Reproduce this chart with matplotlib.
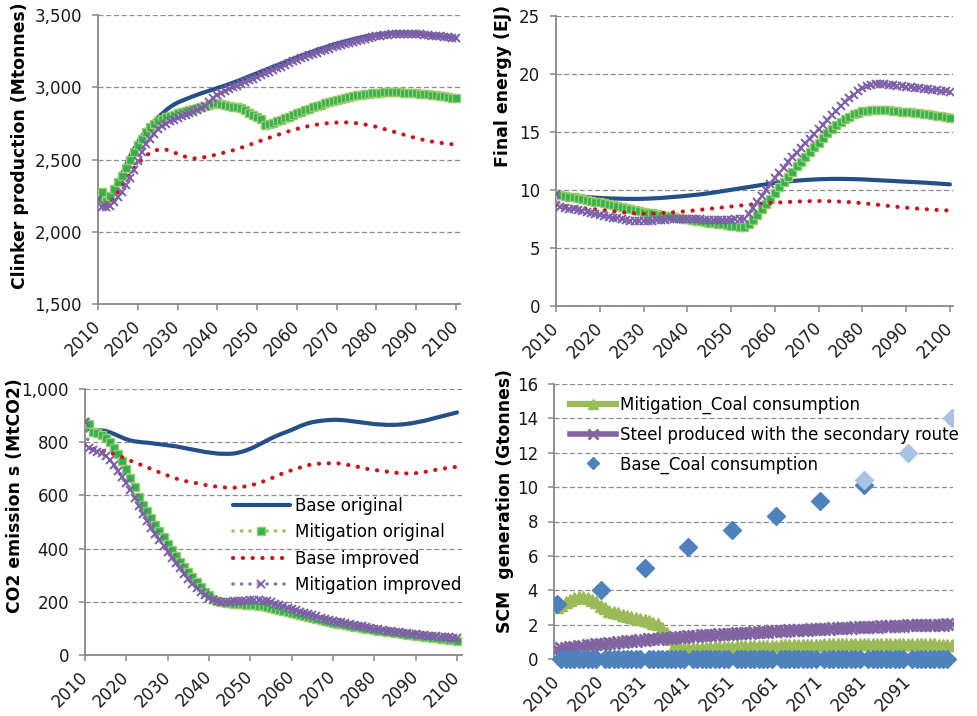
import numpy as np
import matplotlib
matplotlib.use("Agg")
import matplotlib.pyplot as plt
from matplotlib.lines import Line2D
from matplotlib.ticker import FuncFormatter, FixedLocator
from matplotlib.transforms import ScaledTranslation

# ---------------------------------------------------------------- data
years = list(range(2010, 2101))

# Clinker production (Mtonnes)
clk_base_orig = [
    2230, 2215, 2205, 2230, 2280, 2340, 2400, 2460, 2520, 2570,
    2620, 2660, 2700, 2730, 2762, 2790, 2815, 2840, 2862, 2880,
    2895, 2907, 2918, 2929, 2940, 2950, 2960, 2969, 2978, 2987,
    2996, 3005, 3014, 3024, 3034, 3044, 3055, 3066, 3077, 3088,
    3099, 3110, 3121, 3132, 3143, 3154, 3165, 3176, 3187, 3198,
    3209, 3219, 3229, 3239, 3249, 3259, 3268, 3277, 3286, 3295,
    3303, 3311, 3319, 3326, 3333, 3340, 3346, 3352, 3357, 3362,
    3366, 3370, 3373, 3375, 3377, 3378, 3378, 3378, 3377, 3375,
    3373, 3370, 3367, 3364, 3361, 3358, 3355, 3352, 3349, 3346,
    3343]
clk_mit_orig = [
    2230, 2275, 2215, 2250, 2300, 2345, 2385, 2440, 2500, 2550,
    2600, 2645, 2690, 2725, 2750, 2768, 2780, 2792, 2803, 2812,
    2820, 2828, 2836, 2844, 2852, 2860, 2867, 2874, 2880, 2886,
    2890, 2886, 2878, 2872, 2868, 2866, 2860, 2845, 2825, 2808,
    2795, 2780, 2742, 2748, 2757, 2766, 2776, 2786, 2797, 2808,
    2820, 2831, 2842, 2853, 2863, 2873, 2882, 2891, 2900, 2908,
    2916, 2923, 2930, 2936, 2942, 2947, 2951, 2955, 2958, 2961,
    2963, 2965, 2966, 2967, 2967, 2967, 2966, 2965, 2963, 2961,
    2959, 2957, 2955, 2952, 2949, 2946, 2942, 2938, 2934, 2930,
    2926]
clk_base_imp = [
    2230, 2190, 2180, 2200, 2235, 2275, 2315, 2360, 2400, 2440,
    2470, 2500, 2525, 2545, 2560, 2568, 2572, 2570, 2562, 2552,
    2540, 2530, 2520, 2512, 2508, 2510, 2514, 2518, 2523, 2530,
    2537, 2544, 2550, 2557, 2565, 2574, 2583, 2592, 2602, 2612,
    2622, 2632, 2641, 2651, 2661, 2670, 2679, 2688, 2697, 2705,
    2713, 2720, 2727, 2733, 2738, 2743, 2747, 2750, 2753, 2755,
    2757, 2758, 2758, 2757, 2755, 2752, 2748, 2744, 2739, 2733,
    2727, 2720, 2712, 2704, 2696, 2688, 2680, 2672, 2664, 2656,
    2649, 2642, 2636, 2630, 2625, 2621, 2617, 2613, 2610, 2607,
    2604]
clk_mit_imp = [
    2230, 2170, 2170, 2180, 2205, 2240, 2275, 2325, 2375, 2430,
    2490, 2550, 2605, 2645, 2680, 2710, 2732, 2750, 2765, 2778,
    2790, 2800, 2810, 2820, 2830, 2842, 2856, 2875, 2898, 2925,
    2948, 2965, 2978, 2990, 3002, 3013, 3025, 3037, 3049, 3061,
    3073, 3085, 3097, 3109, 3121, 3133, 3145, 3157, 3169, 3180,
    3191, 3202, 3212, 3222, 3232, 3242, 3251, 3260, 3269, 3278,
    3287, 3295, 3303, 3311, 3318, 3325, 3332, 3338, 3344, 3349,
    3354, 3358, 3362, 3365, 3368, 3370, 3371, 3372, 3372, 3371,
    3370, 3368, 3366, 3363, 3360, 3357, 3354, 3351, 3347, 3344,
    3340]

# Final energy (EJ)
fe_base_orig = [
    9.65, 9.62, 9.58, 9.54, 9.49, 9.45, 9.41, 9.37, 9.34, 9.31,
    9.29, 9.27, 9.25, 9.24, 9.23, 9.22, 9.21, 9.21, 9.21, 9.21,
    9.22, 9.23, 9.25, 9.27, 9.29, 9.32, 9.35, 9.38, 9.41, 9.44,
    9.48, 9.52, 9.56, 9.60, 9.65, 9.70, 9.75, 9.81, 9.87, 9.93,
    9.99, 10.05, 10.11, 10.17, 10.23, 10.29, 10.35, 10.41, 10.47, 10.53,
    10.58, 10.63, 10.67, 10.71, 10.75, 10.78, 10.81, 10.84, 10.86, 10.88,
    10.90, 10.91, 10.92, 10.93, 10.93, 10.93, 10.93, 10.92, 10.91, 10.90,
    10.89, 10.87, 10.85, 10.83, 10.81, 10.79, 10.77, 10.75, 10.73, 10.71,
    10.69, 10.67, 10.65, 10.63, 10.61, 10.59, 10.56, 10.54, 10.51, 10.49,
    10.46]
fe_mit_orig = [
    9.60, 9.55, 9.45, 9.40, 9.35, 9.30, 9.22, 9.14, 9.06, 8.98,
    8.90, 8.82, 8.74, 8.66, 8.58, 8.50, 8.42, 8.34, 8.26, 8.18,
    8.10, 8.03, 7.96, 7.89, 7.82, 7.75, 7.69, 7.63, 7.57, 7.51,
    7.45, 7.39, 7.33, 7.27, 7.21, 7.15, 7.10, 7.05, 7.00, 6.95,
    6.90, 6.85, 6.78, 6.75, 7.00, 7.40, 7.85, 8.30, 8.75, 9.20,
    9.70, 10.20, 10.65, 11.10, 11.55, 12.00, 12.42, 12.84, 13.25, 13.65,
    14.05, 14.45, 14.85, 15.20, 15.55, 15.85, 16.10, 16.30, 16.50, 16.65,
    16.75, 16.80, 16.85, 16.87, 16.87, 16.86, 16.84, 16.81, 16.78, 16.74,
    16.70, 16.66, 16.62, 16.58, 16.54, 16.49, 16.44, 16.38, 16.32, 16.26,
    16.20]
fe_base_imp = [
    8.70, 8.65, 8.60, 8.55, 8.50, 8.46, 8.42, 8.38, 8.34, 8.30,
    8.26, 8.22, 8.18, 8.14, 8.10, 8.06, 8.02, 7.99, 7.96, 7.94,
    7.93, 7.93, 7.94, 7.96, 7.98, 8.00, 8.03, 8.06, 8.09, 8.12,
    8.15, 8.19, 8.23, 8.27, 8.31, 8.35, 8.39, 8.43, 8.47, 8.51,
    8.55, 8.59, 8.63, 8.67, 8.70, 8.74, 8.77, 8.80, 8.83, 8.86,
    8.88, 8.90, 8.92, 8.94, 8.96, 8.98, 8.99, 9.00, 9.01, 9.02,
    9.02, 9.02, 9.01, 9.00, 8.99, 8.97, 8.95, 8.93, 8.90, 8.87,
    8.84, 8.80, 8.76, 8.72, 8.68, 8.64, 8.60, 8.56, 8.52, 8.48,
    8.45, 8.42, 8.39, 8.36, 8.33, 8.30, 8.28, 8.26, 8.24, 8.22,
    8.20]
fe_mit_imp = [
    9.60, 8.50, 8.40, 8.35, 8.30, 8.25, 8.15, 8.05, 7.97, 7.90,
    7.83, 7.76, 7.68, 7.60, 7.52, 7.45, 7.39, 7.34, 7.31, 7.30,
    7.30, 7.31, 7.33, 7.35, 7.38, 7.41, 7.44, 7.47, 7.49, 7.50,
    7.50, 7.49, 7.47, 7.45, 7.43, 7.42, 7.41, 7.41, 7.41, 7.42,
    7.43, 7.44, 7.46, 7.50, 7.90, 8.40, 8.90, 9.45, 10.00, 10.50,
    11.00, 11.45, 11.90, 12.35, 12.80, 13.20, 13.60, 14.00, 14.40, 14.80,
    15.20, 15.60, 16.00, 16.40, 16.80, 17.20, 17.55, 17.90, 18.20, 18.50,
    18.75, 18.92, 19.02, 19.07, 19.08, 19.07, 19.04, 19.00, 18.96, 18.92,
    18.88, 18.84, 18.80, 18.76, 18.72, 18.67, 18.62, 18.57, 18.52, 18.47,
    18.42]

# CO2 emissions (MtCO2)
co2_base_orig = [
    855, 850, 847, 846, 845, 843, 838, 832, 825, 818,
    812, 807, 804, 802, 800, 799, 797, 795, 793, 791,
    789, 787, 785, 782, 779, 776, 773, 770, 767, 764,
    762, 760, 758, 757, 757, 757, 758, 761, 765, 770,
    776, 783, 791, 799, 807, 815, 822, 829, 835, 841,
    847, 854, 861, 867, 872, 876, 879, 881, 883, 884,
    885, 885, 884, 883, 881, 879, 877, 875, 873, 871,
    869, 868, 867, 866, 866, 866, 867, 868, 870, 872,
    875, 878, 881, 885, 889, 893, 897, 901, 905, 909,
    913]
co2_mit_orig = [
    878, 868, 840, 835, 828, 818, 800, 780, 755, 728,
    698, 665, 630, 596, 565, 540, 515, 490, 466, 442,
    418, 394, 371, 350, 330, 310, 292, 273, 256, 238,
    224, 211, 202, 197, 195, 193, 192, 191, 190, 189,
    187, 186, 184, 182, 179, 176, 173, 169, 165, 161,
    157, 153, 149, 145, 141, 137, 133, 129, 126, 123,
    120, 117, 114, 111, 108, 106, 103, 101, 98, 96,
    93, 91, 88, 86, 84, 82, 80, 78, 76, 74,
    72, 70, 68, 66, 64, 62, 60, 58, 56, 54,
    52]
co2_base_imp = [
    790, 782, 776, 772, 769, 765, 761, 756, 750, 744,
    738, 731, 725, 719, 712, 706, 700, 694, 687, 681,
    675, 669, 664, 659, 655, 652, 649, 646, 643, 640,
    637, 635, 633, 631, 630, 629, 629, 630, 632, 635,
    638, 642, 647, 652, 658, 664, 671, 678, 684, 690,
    695, 700, 705, 710, 714, 717, 719, 720, 721, 721,
    721, 721, 720, 717, 714, 711, 708, 704, 701, 698,
    696, 694, 692, 690, 688, 686, 684, 683, 683, 683,
    684, 686, 688, 691, 694, 697, 700, 702, 704, 706,
    708]
co2_mit_imp = [
    875, 778, 770, 765, 759, 748, 735, 715, 693, 670,
    648, 620, 592, 562, 532, 504, 478, 455, 432, 410,
    388, 366, 346, 325, 305, 287, 268, 252, 238, 226,
    215, 207, 202, 200, 200, 200, 201, 202, 203, 204,
    205, 205, 205, 204, 201, 197, 192, 187, 182, 177,
    172, 167, 162, 157, 152, 148, 144, 140, 136, 132,
    128, 125, 122, 119, 116, 113, 110, 107, 104, 101,
    98, 96, 93, 91, 89, 87, 85, 83, 81, 79,
    77, 76, 74, 72, 71, 69, 68, 66, 65, 64,
    63]

# SCM generation (Gtonnes), category axis
scm_tick_labels = ['2010', '2020', '2031', '2041', '2051',
                   '2061', '2071', '2081', '2091']
coal_mitigation = [
    3.00, 3.15, 3.30, 3.45, 3.55, 3.60, 3.60, 3.55, 3.45, 3.30,
    3.10, 2.95, 2.82, 2.72, 2.65, 2.58, 2.52, 2.46, 2.40, 2.34,
    2.27, 2.20, 2.12, 2.03, 1.80, 1.50, 1.15, 0.85, 0.68, 0.63,
    0.62, 0.63, 0.64, 0.65, 0.66, 0.67, 0.68, 0.69, 0.70, 0.71,
    0.72, 0.73, 0.73, 0.74, 0.75, 0.75, 0.76, 0.77, 0.77, 0.78,
    0.78, 0.79, 0.80, 0.80, 0.81, 0.82, 0.82, 0.83, 0.83, 0.84,
    0.84, 0.85, 0.85, 0.86, 0.86, 0.87, 0.87, 0.87, 0.88, 0.88,
    0.88, 0.88, 0.88, 0.88, 0.88, 0.88, 0.88, 0.88, 0.88, 0.88,
    0.88, 0.87, 0.87, 0.86, 0.86, 0.85, 0.85, 0.84, 0.83, 0.83,
    0.82]
steel_secondary = [
    0.60, 0.63, 0.66, 0.69, 0.72, 0.75, 0.77, 0.80, 0.83, 0.85,
    0.88, 0.90, 0.93, 0.95, 0.97, 1.00, 1.02, 1.05, 1.07, 1.10,
    1.12, 1.14, 1.16, 1.18, 1.20, 1.22, 1.24, 1.26, 1.28, 1.30,
    1.32, 1.34, 1.35, 1.37, 1.38, 1.40, 1.42, 1.43, 1.45, 1.46,
    1.48, 1.49, 1.51, 1.52, 1.54, 1.55, 1.56, 1.58, 1.59, 1.61,
    1.62, 1.63, 1.65, 1.66, 1.67, 1.69, 1.70, 1.71, 1.72, 1.74,
    1.75, 1.76, 1.77, 1.78, 1.79, 1.80, 1.81, 1.82, 1.84, 1.85,
    1.86, 1.87, 1.88, 1.89, 1.90, 1.91, 1.91, 1.92, 1.93, 1.94,
    1.95, 1.96, 1.96, 1.97, 1.98, 1.98, 1.99, 2.00, 2.00, 2.01,
    2.02]
base_coal_decadal = [3.2, 4.0, 5.3, 6.5, 7.5, 8.3, 9.2, 10.1]   # categories 0, 10, ..., 70
base_coal_late = [10.4, 12.0, 14.0]                             # categories 70, 80, 90
n_cat = len(coal_mitigation)

# ---------------------------------------------------------------- style
BLUE = '#24508A'
RED = '#C8141E'
G_FACE = '#31B251'
G_EDGE = '#9CCB6C'
G_LINE = '#98C865'
P_MARK = '#7C5FA8'
P_LINE = '#9079B9'
GRID = '#8C8C8C'
AXIS = '#878787'
DOT = (0, (0.05, 2.3))
FS = 12
LABEL_FS = 12.4

plt.rcParams['font.family'] = ['DejaVu Sans']

fig = plt.figure(figsize=(9.78, 7.16), dpi=100)
W, H = 978.0, 716.0
# small rightward nudge for the slanted year labels
xlabel_shift = ScaledTranslation(4 / 100, -2 / 100, fig.dpi_scale_trans)


def add_axes(left, top, right, bottom):
    return fig.add_axes([left / W, 1 - bottom / H, (right - left) / W, (bottom - top) / H])


def style(ax, ylim, yticks, fmt, xlim, xticks, xlabels):
    ax.set_ylim(*ylim)
    ax.set_xlim(*xlim)
    ax.yaxis.set_major_locator(FixedLocator(yticks))
    ax.yaxis.set_major_formatter(FuncFormatter(fmt))
    ax.xaxis.set_major_locator(FixedLocator(xticks))
    ax.set_xticklabels(xlabels, rotation=45, ha='right', va='center',
                       rotation_mode='anchor')
    for lab in ax.get_xticklabels():
        lab.set_transform(lab.get_transform() + xlabel_shift)
    for s in ('top', 'right'):
        ax.spines[s].set_visible(False)
    for s in ('left', 'bottom'):
        ax.spines[s].set_color(AXIS)
        ax.spines[s].set_linewidth(1.3)
    ax.tick_params(axis='both', direction='out', length=4.5, width=1.1,
                   color=AXIS, labelsize=FS, labelcolor='#1a1a1a')
    ax.tick_params(axis='y', pad=7)
    ax.tick_params(axis='x', pad=9.5)
    ax.grid(axis='y', color=GRID, linestyle=(0, (4, 2.2)), linewidth=0.9)
    ax.set_axisbelow(True)
    ax.patch.set_alpha(0)


def draw_four(ax, base_orig, mit_orig, base_imp, mit_imp, msq=5.2, mx=5.5):
    ax.plot(years, base_orig, color=BLUE, lw=3.0, solid_capstyle='round',
            label='Base original', zorder=3)
    ax.plot(years, mit_orig, color=G_LINE, lw=2.6, linestyle=DOT,
            dash_capstyle='round', marker='s', ms=msq, mfc=G_FACE,
            mec=G_EDGE, mew=1.0, label='Mitigation original', zorder=4)
    ax.plot(years, base_imp, color=RED, lw=3.0, linestyle=DOT,
            dash_capstyle='round', label='Base improved', zorder=5)
    ax.plot(years, mit_imp, color=P_LINE, lw=2.6, linestyle=DOT,
            dash_capstyle='round', marker='x', ms=mx, mfc=P_MARK,
            mec=P_MARK, mew=1.4, label='Mitigation improved', zorder=6)


def ylabel(x, y, text):
    fig.text(x / W, 1 - y / H, text, rotation=90, ha='center', va='center',
             fontsize=LABEL_FS, fontweight='bold')


decade_ticks = list(range(2010, 2101, 10))
decade_labels = [str(y) for y in decade_ticks]
thousands = lambda v, p: f'{v:,.0f}'
plain = lambda v, p: f'{v:.0f}'

# ---------------------------------------------------------------- clinker
ax1 = add_axes(98, 15.3, 460, 304)
draw_four(ax1, clk_base_orig, clk_mit_orig, clk_base_imp, clk_mit_imp)
style(ax1, (1500, 3500), [1500, 2000, 2500, 3000, 3500], thousands,
      (2010, 2101), decade_ticks, decade_labels)
ylabel(20, 146, 'Clinker production (Mtonnes)')

# ---------------------------------------------------------------- final energy
ax2 = add_axes(556, 15.7, 953, 305.7)
draw_four(ax2, fe_base_orig, fe_mit_orig, fe_base_imp, fe_mit_imp)
style(ax2, (0, 25), [0, 5, 10, 15, 20, 25], plain,
      (2010, 2100.7), decade_ticks, decade_labels)
ylabel(503, 86, 'Final energy (EJ)')

# ---------------------------------------------------------------- CO2
ax3 = add_axes(85, 389.3, 462, 654.7)
draw_four(ax3, co2_base_orig, co2_mit_orig, co2_base_imp, co2_mit_imp)
style(ax3, (0, 1000), [0, 200, 400, 600, 800, 1000], thousands,
      (2010, 2101.2), decade_ticks, decade_labels)
ylabel(15, 496, 'CO2 emission s (MtCO2)')
ax3.legend(loc='upper left', bbox_to_anchor=(233 / W, 1 - 497 / H),
           bbox_transform=fig.transFigure, frameon=False, fontsize=FS,
           numpoints=1, handlelength=3.4, handletextpad=0.35,
           labelspacing=0.5, borderpad=0, borderaxespad=0)

# ---------------------------------------------------------------- SCM
ax4 = add_axes(554, 384, 953, 659)
cat = np.arange(n_cat)
ax4.plot(cat, coal_mitigation, color='#9BBB59', lw=3.5, marker='^', ms=8.5,
         mfc='#9BBB59', mec='#9BBB59', zorder=3)
ax4.plot(cat, steel_secondary, color='#8064A2', lw=2.5, marker='x', ms=8.5,
         mec='#8064A2', mew=2.0, zorder=4)
decade_idx = list(range(0, n_cat, 10))
zero_idx = [i for i in cat if i not in decade_idx]
ax4.plot(zero_idx, [0.0] * len(zero_idx), linestyle='none', marker='D',
         ms=9, mfc='#4F81BD', mec='#4F81BD', zorder=5, clip_on=False)
ax4.plot(decade_idx[:len(base_coal_decadal)], base_coal_decadal,
         linestyle='none', marker='D', ms=9.5, mfc='#4F81BD', mec='#4F81BD',
         zorder=5)
ax4.plot(decade_idx[-len(base_coal_late):], base_coal_late, linestyle='none',
         marker='D', ms=9.5, mfc='#A8C2E1', mec='#A8C2E1', zorder=6)
style(ax4, (0, 16), list(range(0, 17, 2)), plain,
      (-0.65, 90.3), decade_idx[:len(scm_tick_labels)], scm_tick_labels)
ylabel(505, 501, 'SCM  generation (Gtonnes)')
scm_handles = [
    Line2D([], [], color='#9BBB59', lw=4.5, marker='^', ms=7,
           mfc='#9BBB59', mec='#9BBB59'),
    Line2D([], [], color='#8064A2', lw=4, marker='x', ms=7,
           mec='#8064A2', mew=2),
    Line2D([], [], linestyle='none', marker='D', ms=6, mfc='#4F81BD',
           mec='#4F81BD'),
]
ax4.legend(scm_handles, ['Mitigation_Coal consumption',
                         'Steel produced with the secondary route',
                         'Base_Coal consumption'],
           loc='upper left', bbox_to_anchor=(570 / W, 1 - 396 / H),
           bbox_transform=fig.transFigure, frameon=False, fontsize=FS,
           numpoints=1, handlelength=2.75, handletextpad=0.25,
           labelspacing=0.69, borderpad=0, borderaxespad=0)

fig.savefig('out.png', dpi=100)
